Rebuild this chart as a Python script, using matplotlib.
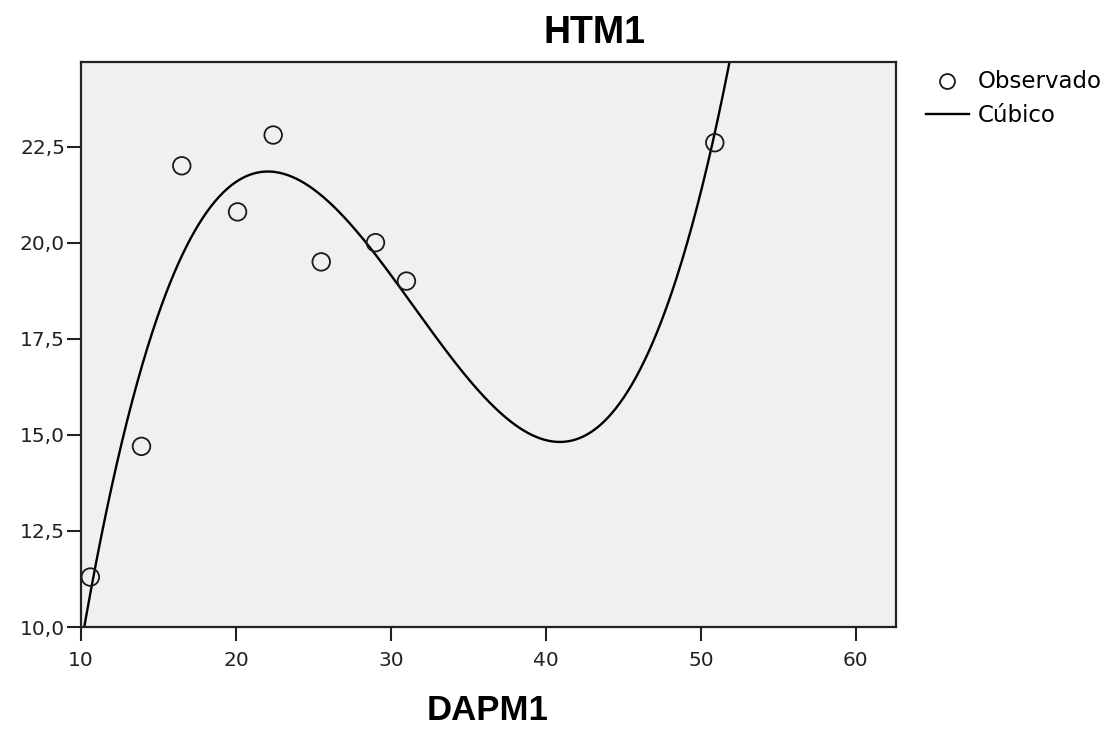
import numpy as np
import matplotlib
matplotlib.use("Agg")
import matplotlib.pyplot as plt
from matplotlib.ticker import FuncFormatter

# Observed points (DAPM1, HTM1)
dapm1 = [10.6, 13.9, 16.5, 20.1, 22.4, 25.5, 29.0, 31.0, 50.9]
htm1 = [11.3, 14.7, 22.0, 20.8, 22.8, 19.5, 20.0, 19.0, 22.6]

# Cubic fit coefficients (highest power first)
cubic_coef = [0.002103, -0.19861, 5.6923, -29.646]

x_ticks = [10, 20, 30, 40, 50, 60]
y_ticks = [10.0, 12.5, 15.0, 17.5, 20.0, 22.5]

plt.rcParams['font.family'] = ['DejaVu Sans']

fig = plt.figure(figsize=(11.18, 7.32), dpi=100)
ax = fig.add_axes([0.0725, 0.1434, 0.729, 0.7719])
ax.set_facecolor('#f0f0f0')

xs = np.linspace(10, 62.6, 800)
ax.plot(xs, np.polyval(cubic_coef, xs), color='black', lw=1.7, label='Cúbico', zorder=2)
ax.scatter(dapm1, htm1, s=160, facecolors='none', edgecolors='#1a1a1a', linewidths=1.3,
           label='Observado', zorder=3)

ax.set_xlim(10, 62.6)
ax.set_ylim(10, 24.7)
ax.set_xticks(x_ticks)
ax.set_yticks(y_ticks)
ax.yaxis.set_major_formatter(FuncFormatter(lambda v, p: f"{v:.1f}".replace('.', ',')))
ax.tick_params(direction='out', length=10, width=1.5, labelsize=14.5, colors='#222222')
ax.tick_params(axis='x', pad=7)
ax.tick_params(axis='y', pad=1.5)
for s in ax.spines.values():
    s.set_linewidth(1.6)
    s.set_color('#222222')

fig.text(0.532, 0.941, 'HTM1', fontsize=27, fontweight='bold', ha='center', va='baseline',
         family='Liberation Sans')
fig.text(0.436, 0.016, 'DAPM1', fontsize=25, fontweight='bold', ha='center', va='baseline',
         family='Liberation Sans')

handles, labels = ax.get_legend_handles_labels()
leg = fig.legend(handles[::-1], labels[::-1], loc='upper left', bbox_to_anchor=(0.828, 0.905),
                 frameon=False, fontsize=16.5, handlelength=1.9, handletextpad=0.35,
                 labelspacing=0.5, borderaxespad=0, borderpad=0, markerscale=0.85)

fig.savefig('out.png', dpi=100)
